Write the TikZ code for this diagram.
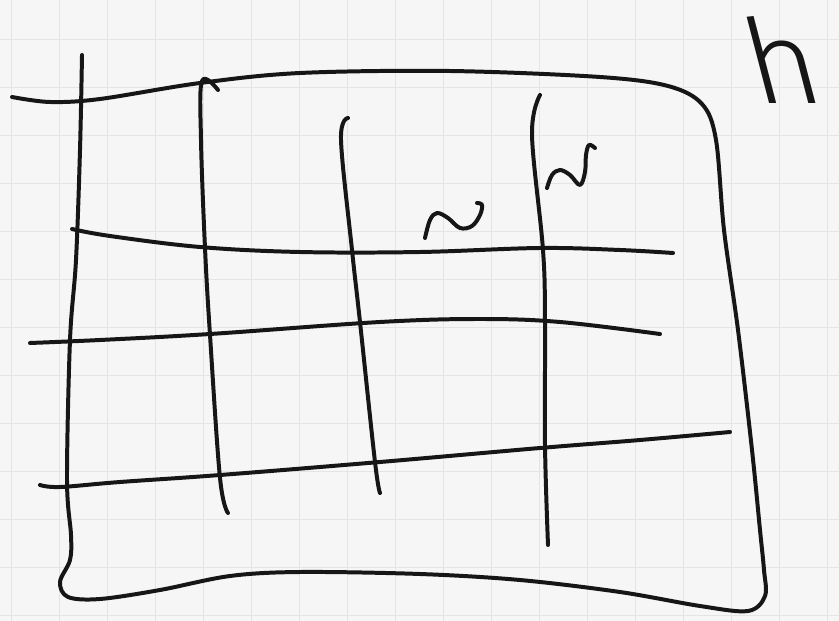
\documentclass[tikz,border=0pt]{standalone}
\usepackage{fontspec}
\setmainfont{Liberation Sans}
\newfontfamily\handfont{Fira Sans Light}
\usetikzlibrary{positioning}
\definecolor{inkblack}{RGB}{22, 22, 22}
\definecolor{paper}{RGB}{246, 246, 246}
\definecolor{gridgray}{RGB}{228, 228, 228}

\begin{document}
\begin{tikzpicture}[x=0.03cm, y=-0.03cm,
                pen/.style={draw=inkblack, line width=3.4pt, line cap=round, line join=round},
                paperline/.style={draw=gridgray, line width=0.7pt},
                handletter/.style={text=inkblack, inner sep=0pt, font=\handfont\fontsize{100}{100}\selectfont}
            ]
            % graph paper
            \fill[paper] (0,0) rectangle (839,621);
            \useasboundingbox (0,0) rectangle (839,621);
            \foreach \gy in {39,87,...,615} \draw[paperline] (0,\gy) -- (839,\gy);
            \foreach \gx in {11,59,...,839} \draw[paperline] (\gx,0) -- (\gx,621);

            % outer box
            \draw[pen] plot[smooth, tension=0.55] coordinates {
                (82,55) (80,150) (76,260) (70,340) (67,480) (71,535) (70,560) (60,582) (68,597)
                (100,599) (160,590) (230,576) (300,572) (420,574) (520,580) (620,592) (700,606)
                (748,611) (765,596) (764,570) (760,530) (752,450) (738,330) (724,230) (716,140)
                (702,104) (668,86) (600,77) (450,71) (300,73) (200,83) (100,99) (50,102) (12,97)};

            % verticals
            \draw[pen] plot[smooth, tension=0.6] coordinates {
                (218,90) (202,81) (201,140) (205,248) (210,335) (220,478) (228,513)};
            \draw[pen] plot[smooth, tension=0.6] coordinates {
                (348,118) (341,140) (352,250) (360,322) (375,462) (380,493)};
            \draw[pen] plot[smooth, tension=0.6] coordinates {
                (540,95) (532,135) (543,250) (545,322) (545,445) (548,545)};

            % horizontals
            \draw[pen] plot[smooth, tension=0.6] coordinates {
                (72,229) (110,236) (200,247) (300,252) (420,252) (540,248) (620,250) (673,253)};
            \draw[pen] plot[smooth, tension=0.6] coordinates {
                (30,343) (100,340) (210,334) (380,322) (480,319) (560,322) (660,334)};
            \draw[pen] plot[smooth, tension=0.6] coordinates {
                (40,485) (60,487) (120,482) (220,475) (380,462) (540,448) (640,440) (730,432)};

            % wave marks
            \draw[pen] plot[smooth, tension=0.6] coordinates {
                (425,238) (430,220) (437,213) (448,218) (460,228) (472,226) (480,215) (482,205) (477,203)};
            \draw[pen] plot[smooth, tension=0.6] coordinates {
                (547,188) (552,175) (560,170) (570,175) (580,185) (585,172) (586,155) (589,145) (595,148)};

            \begin{scope}[shift={(756,104)}, xslant=-0.26, xscale=1.05]
                \node[handletter, anchor=base west, transform shape] (hmark) at (0,0) {h};
            \end{scope}
            \end{tikzpicture}
\end{document}
